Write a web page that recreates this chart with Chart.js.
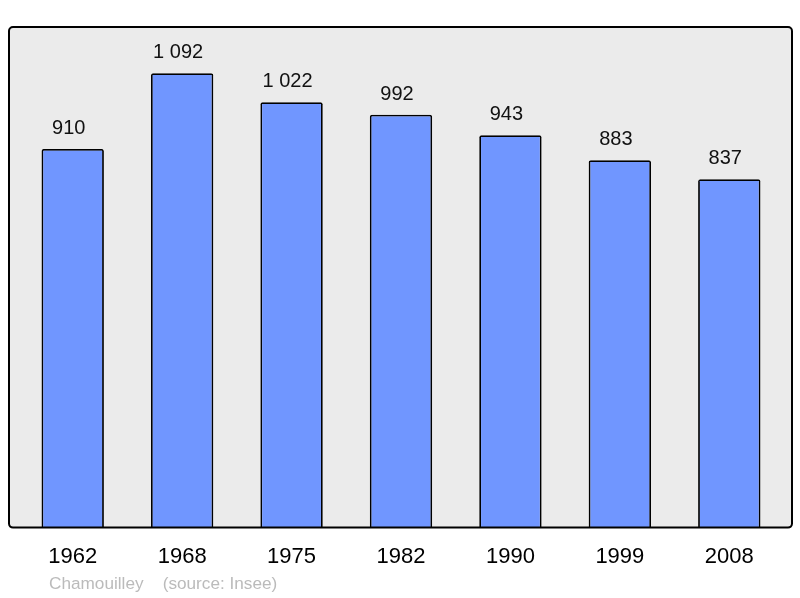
<!DOCTYPE html>
<html>
<head>
<meta charset="utf-8">
<script src="https://cdn.jsdelivr.net/npm/chart.js@4/dist/chart.umd.min.js"></script>
<style>
  html, body { margin: 0; padding: 0; background: #fff; }
  #wrap { width: 800px; height: 598px; }
</style>
</head>
<body>
<div id="wrap"><canvas id="chart" width="800" height="598"></canvas></div>
<script>
'use strict';

// population by census year
var years = ['1962', '1968', '1975', '1982', '1990', '1999', '2008'];
var population = [910, 1092, 1022, 992, 943, 883, 837];
var valueLabels = ['910', '1 092', '1 022', '992', '943', '883', '837'];
var footerText = 'Chamouilley    (source: Insee)';

var FONT = '"Liberation Sans", Arial, sans-serif';

// grey panel + frame around the plot
var framePlugin = {
  id: 'frame',
  beforeDatasetsDraw: function (chart) {
    var a = chart.chartArea, ctx = chart.ctx;
    ctx.save();
    ctx.fillStyle = '#ebebeb';
    ctx.beginPath();
    ctx.roundRect(a.left - 9, a.top, (a.right + 8) - (a.left - 9), a.bottom - a.top, 4);
    ctx.fill();
    ctx.restore();
  },
  afterDatasetsDraw: function (chart) {
    var a = chart.chartArea, ctx = chart.ctx;
    ctx.save();
    ctx.strokeStyle = '#000';
    ctx.lineWidth = 2;
    ctx.beginPath();
    ctx.roundRect(a.left - 9, a.top, (a.right + 8) - (a.left - 9), a.bottom - a.top, 4);
    ctx.stroke();

    // value labels above bars (sit a little left of the bar centre)
    var meta = chart.getDatasetMeta(0);
    ctx.fillStyle = '#111';
    ctx.font = '20px ' + FONT;
    ctx.textAlign = 'center';
    ctx.textBaseline = 'middle';
    meta.data.forEach(function (bar, i) {
      ctx.fillText(valueLabels[i], bar.x - 4, bar.y - 20.5);
    });

    // source line
    ctx.fillStyle = '#bbbbbb';
    ctx.font = '17.2px ' + FONT;
    ctx.textAlign = 'left';
    ctx.fillText(footerText, 49, 584);
    ctx.restore();
  }
};

new Chart(document.getElementById('chart').getContext('2d'), {
  type: 'bar',
  data: {
    labels: years,
    datasets: [{
      data: population,
      backgroundColor: 'rgb(112,150,255)',
      borderColor: '#000',
      borderWidth: 1.8,
      borderRadius: 2,
      borderSkipped: 'bottom',
      barPercentage: 0.57,
      categoryPercentage: 1
    }]
  },
  options: {
    responsive: false,
    animation: false,
    layout: { padding: { left: 18, right: 16, top: 27, bottom: 12 } },
    plugins: {
      legend: { display: false },
      tooltip: { enabled: false }
    },
    scales: {
      x: {
        grid: { display: false, drawTicks: false },
        border: { display: false },
        ticks: {
          color: '#000',
          padding: 16,
          font: { family: FONT, size: 22 }
        }
      },
      y: {
        display: false,
        min: 0,
        max: 1203
      }
    }
  },
  plugins: [framePlugin]
});
</script>
</body>
</html>
